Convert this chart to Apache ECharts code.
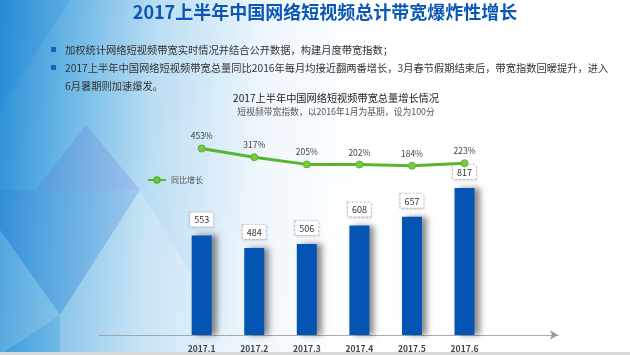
<!DOCTYPE html>
<html>
<head>
<meta charset="utf-8">
<script src="https://cdn.jsdelivr.net/npm/echarts@6/dist/echarts.min.js"></script>
<style>
html,body{margin:0;padding:0;background:#fff;}
#chart{width:630px;height:355px;}
</style>
</head>
<body>
<div id="chart"></div>
<script>
var pageTitle = '2017上半年中国网络短视频总计带宽爆炸性增长';
var bulletLines = [
  '加权统计网络短视频带宽实时情况并结合公开数据，构建月度带宽指数；',
  '2017上半年中国网络短视频带宽总量同比2016年每月均接近翻两番增长，3月春节假期结束后，带宽指数回暖提升，进入',
  '6月暑期则加速爆发。'
];
var chartTitle = '2017上半年中国网络短视频带宽总量增长情况';
var chartSubtitle = '短视频带宽指数，以2016年1月为基期，设为100分';
var categories = ['2017.1', '2017.2', '2017.3', '2017.4', '2017.5', '2017.6'];
var bandwidthIndex = [553, 484, 506, 608, 657, 817];
var yoyGrowth = [453, 317, 205, 202, 184, 223];
var lineName = '同比增长';

var FONT = '"Noto Sans CJK SC", "Noto Sans", sans-serif';
var chart = echarts.init(document.getElementById('chart'), null, {renderer: 'canvas'});

var option = {
  backgroundColor: '#ffffff',
  animation: false,
  textStyle: {fontFamily: FONT},
  graphic: [
    {type: 'rect', z: -10, silent: true, shape: {x: 0, y: 0, width: 630, height: 355},
      style: {fill: new echarts.graphic.LinearGradient(0, 0, 1, 0.1, [
        {offset: 0, color: '#2a8fd6'},
        {offset: 0.1, color: '#62b2e4'},
        {offset: 0.25, color: '#b9ddf3'},
        {offset: 0.42, color: '#eef6fc'},
        {offset: 0.58, color: '#ffffff'},
        {offset: 1, color: '#ffffff'}
      ])}},
    {type: 'polygon', z: -9, silent: true, shape: {points: [[0, 0], [70, 0], [0, 110]]}, style: {fill: 'rgba(20,120,210,0.15)'}},
    {type: 'polygon', z: -9, silent: true, shape: {points: [[86, 125], [35, 190], [140, 190]]}, style: {fill: 'rgba(90,110,210,0.22)'}},
    {type: 'polygon', z: -9, silent: true, shape: {points: [[0, 190], [140, 190], [60, 315], [0, 230]]}, style: {fill: 'rgba(40,110,210,0.15)'}},
    {type: 'polygon', z: -9, silent: true, shape: {points: [[0, 230], [60, 315], [0, 355]]}, style: {fill: 'rgba(255,255,255,0.15)'}},
    {type: 'polygon', z: -9, silent: true, shape: {points: [[60, 315], [140, 190], [240, 355], [60, 355]]}, style: {fill: 'rgba(255,255,255,0.2)'}},
    {type: 'rect', z: -8, silent: true, shape: {x: 0, y: 352, width: 630, height: 3}, style: {fill: '#d9d9d9'}},
    {type: 'text', x: 325, y: 12, style: {text: pageTitle, font: 'bold 18px ' + FONT, fill: '#0b57b8', align: 'center', verticalAlign: 'middle'}},
    {type: 'rect', shape: {x: 51, y: 47, width: 5, height: 5}, style: {fill: '#1f5fb5'}},
    {type: 'rect', shape: {x: 51, y: 65, width: 5, height: 5}, style: {fill: '#1f5fb5'}},
    {type: 'text', x: 65, y: 50, style: {text: bulletLines[0], font: '10.25px ' + FONT, fill: '#333', verticalAlign: 'middle'}},
    {type: 'text', x: 65, y: 68, style: {text: bulletLines[1], font: '10.25px ' + FONT, fill: '#333', verticalAlign: 'middle'}},
    {type: 'text', x: 65, y: 86, style: {text: bulletLines[2], font: '10.25px ' + FONT, fill: '#333', verticalAlign: 'middle'}},
    {type: 'text', x: 336, y: 98, style: {text: chartTitle, font: '10.2px ' + FONT, fill: '#222', align: 'center', verticalAlign: 'middle'}},
    {type: 'text', x: 336, y: 112, style: {text: chartSubtitle, font: '8.8px ' + FONT, fill: '#555', align: 'center', verticalAlign: 'middle'}}
  ],
  legend: {
    data: [lineName], left: 142, top: 171, itemWidth: 18, itemHeight: 7, itemGap: 6,
    textStyle: {fontSize: 8, color: '#555', fontFamily: FONT}
  },
  grid: [
    {left: 175.4, right: 139.2, top: 155, bottom: 20},
    {left: 175.4, right: 139.2, top: 145.5, height: 32},
    {left: 99, right: 72, top: 155, bottom: 20}
  ],
  xAxis: [
    {type: 'category', gridIndex: 0, data: categories,
      axisLine: {show: false}, axisTick: {show: false},
      axisLabel: {fontSize: 8.5, fontWeight: 'bold', color: '#444', margin: 10, fontFamily: FONT}},
    {type: 'category', gridIndex: 1, data: categories, show: false},
    {type: 'value', gridIndex: 2, min: 0, max: 1, axisLabel: {show: false}, axisTick: {show: false}, splitLine: {show: false},
      axisLine: {show: true, symbol: ['none', 'arrow'], symbolSize: [7, 8], lineStyle: {color: '#999', type: 'dotted', width: 1}}}
  ],
  yAxis: [
    {type: 'value', gridIndex: 0, min: 0, max: 1000, show: false},
    {type: 'value', gridIndex: 1, min: 0, max: 500, show: false},
    {type: 'value', gridIndex: 2, min: 0, max: 1, show: false}
  ],
  series: [
    {type: 'bar', name: '带宽指数', xAxisIndex: 0, yAxisIndex: 0, data: bandwidthIndex, barWidth: 20,
      itemStyle: {color: '#0454b4', shadowColor: 'rgba(0,0,0,0.45)', shadowBlur: 6, shadowOffsetX: 5, shadowOffsetY: 0},
      label: {show: true, position: 'top', distance: 9, fontSize: 9, color: '#333', fontFamily: FONT,
        backgroundColor: '#ffffff', borderColor: '#c8c8c8', borderWidth: 1, borderType: 'dotted',
        padding: [3, 4, 2, 4], shadowColor: 'rgba(0,0,0,0.15)', shadowBlur: 3, shadowOffsetY: 1}},
    {type: 'line', name: lineName, xAxisIndex: 1, yAxisIndex: 1, data: yoyGrowth,
      symbol: 'circle', symbolSize: 7,
      lineStyle: {color: '#58b52f', width: 3},
      itemStyle: {color: '#7cc940', borderColor: '#58b52f', borderWidth: 1},
      label: {show: true, position: 'top', distance: 4, fontSize: 8.5, color: '#444', fontFamily: FONT,
        formatter: function (p) { return p.value + '%'; }}}
  ]
};
chart.setOption(option);
</script>
</body>
</html>
